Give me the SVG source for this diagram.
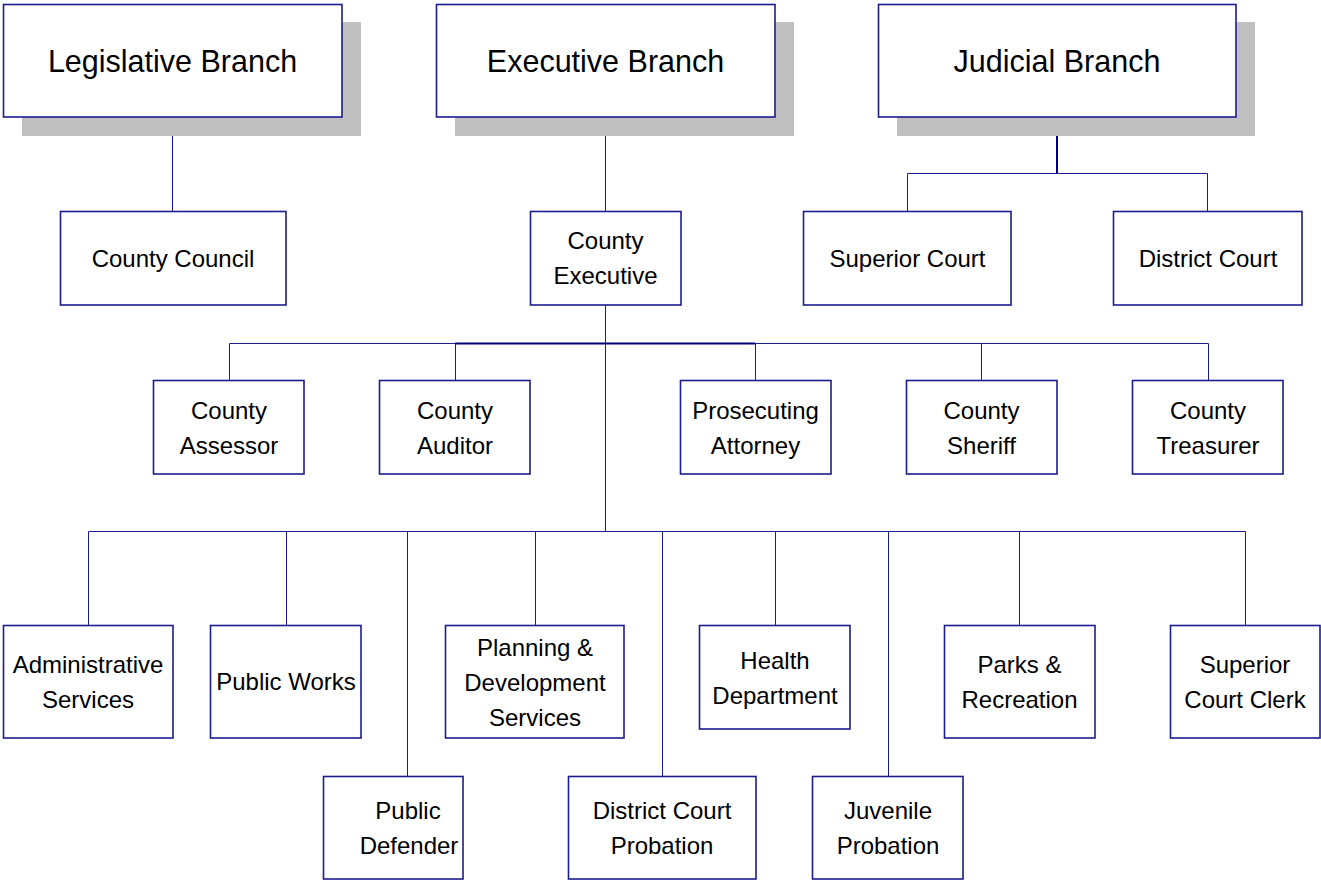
<svg xmlns="http://www.w3.org/2000/svg" width="1321" height="880" viewBox="0 0 1321 880">
<style>
.box{fill:#fff;stroke:#1c1c8c;stroke-width:1.6}
.sh{fill:#c0c0c0}
.t{font-family:"Liberation Sans",Arial,sans-serif;font-size:24px;fill:#000;text-anchor:middle}
.tb{font-family:"Liberation Sans",Arial,sans-serif;font-size:30.5px;fill:#000;text-anchor:middle}
.c{stroke:#1c1c8c;stroke-width:1;fill:none}
.cb{stroke:#00007a;stroke-width:2;fill:none}
</style>
<rect width="1321" height="880" fill="#fff"/>
<g id="connectors">
<path class="c" d="M172.5 117V211"/>
<path class="c" d="M605.5 117V211"/>
<path class="cb" d="M1057 117V173"/>
<path class="c" d="M907.5 211V173.5H1207.5V211"/>
<path class="c" d="M605.5 305V531"/>
<path class="c" d="M229.5 380V343.5H455M755 343.5H1208.5V380"/>
<path class="cb" d="M455 343.5H755"/>
<path class="c" d="M455.5 343V380M755.5 343V380M981.5 343V380"/>
<path class="c" d="M88.5 625V531.5H1245.5V625"/>
<path class="c" d="M286.5 531V625M407.5 531V776M535.5 531V625M662.5 531V776M775.5 531V625M888.5 531V776M1019.5 531V625"/>
</g>
<g id="legislative">
<rect class="sh" x="22" y="22" width="339" height="114"/>
<rect class="box" x="3.5" y="4.5" width="338.5" height="112.5"/>
<text class="tb" x="172.5" y="72">Legislative Branch</text>
</g>
<g id="executive">
<rect class="sh" x="455" y="22" width="339" height="114"/>
<rect class="box" x="436.5" y="4.5" width="338.5" height="112.5"/>
<text class="tb" x="605.5" y="72">Executive Branch</text>
</g>
<g id="judicial">
<rect class="sh" x="897" y="22" width="358" height="114"/>
<rect class="box" x="878.5" y="4.5" width="357.5" height="112.5"/>
<text class="tb" x="1057" y="72">Judicial Branch</text>
</g>
<g id="county-council">
<rect class="box" x="60.5" y="211.5" width="225.5" height="93.5"/>
<text class="t" x="173" y="267">County Council</text>
</g>
<g id="county-executive">
<rect class="box" x="530.5" y="211.5" width="150.5" height="93.5"/>
<text class="t" x="605.5" y="249">County</text>
<text class="t" x="605.5" y="284">Executive</text>
</g>
<g id="superior-court">
<rect class="box" x="803.5" y="211.5" width="207.5" height="93.5"/>
<text class="t" x="907.5" y="267">Superior Court</text>
</g>
<g id="district-court">
<rect class="box" x="1113.5" y="211.5" width="188.5" height="93.5"/>
<text class="t" x="1208" y="267">District Court</text>
</g>
<g id="county-assessor">
<rect class="box" x="153.5" y="380.5" width="150.5" height="93.5"/>
<text class="t" x="229" y="418.5">County</text>
<text class="t" x="229" y="453.5">Assessor</text>
</g>
<g id="county-auditor">
<rect class="box" x="379.5" y="380.5" width="150.5" height="93.5"/>
<text class="t" x="455" y="418.5">County</text>
<text class="t" x="455" y="453.5">Auditor</text>
</g>
<g id="prosecuting-attorney">
<rect class="box" x="680.5" y="380.5" width="150.5" height="93.5"/>
<text class="t" x="755.5" y="418.5">Prosecuting</text>
<text class="t" x="755.5" y="453.5">Attorney</text>
</g>
<g id="county-sheriff">
<rect class="box" x="906.5" y="380.5" width="150.5" height="93.5"/>
<text class="t" x="981.5" y="418.5">County</text>
<text class="t" x="981.5" y="453.5">Sheriff</text>
</g>
<g id="county-treasurer">
<rect class="box" x="1132.5" y="380.5" width="150.5" height="93.5"/>
<text class="t" x="1208" y="418.5">County</text>
<text class="t" x="1208" y="453.5">Treasurer</text>
</g>
<g id="administrative-services">
<rect class="box" x="3.5" y="625.5" width="169.5" height="112.5"/>
<text class="t" x="88" y="672.5">Administrative</text>
<text class="t" x="88" y="707.5">Services</text>
</g>
<g id="public-works">
<rect class="box" x="210.5" y="625.5" width="150.5" height="112.5"/>
<text class="t" x="286" y="690">Public Works</text>
</g>
<g id="public-defender">
<rect class="box" x="323.5" y="776.5" width="139.5" height="102.5"/>
<text class="t" x="408" y="818.5">Public</text>
<text class="t" x="409" y="853.5">Defender</text>
</g>
<g id="planning-development">
<rect class="box" x="445.5" y="625.5" width="178.5" height="112.5"/>
<text class="t" x="535" y="655.5">Planning &amp;</text>
<text class="t" x="535" y="690.5">Development</text>
<text class="t" x="535" y="725.5">Services</text>
</g>
<g id="district-court-probation">
<rect class="box" x="568.5" y="776.5" width="187.5" height="102.5"/>
<text class="t" x="662" y="818.5">District Court</text>
<text class="t" x="662" y="853.5">Probation</text>
</g>
<g id="health-department">
<rect class="box" x="699.5" y="625.5" width="150.5" height="103.5"/>
<text class="t" x="775" y="668.5">Health</text>
<text class="t" x="775" y="703.5">Department</text>
</g>
<g id="juvenile-probation">
<rect class="box" x="812.5" y="776.5" width="150.5" height="102.5"/>
<text class="t" x="888" y="818.5">Juvenile</text>
<text class="t" x="888" y="853.5">Probation</text>
</g>
<g id="parks-recreation">
<rect class="box" x="944.5" y="625.5" width="150.5" height="112.5"/>
<text class="t" x="1019.5" y="672.5">Parks &amp;</text>
<text class="t" x="1019.5" y="707.5">Recreation</text>
</g>
<g id="superior-court-clerk">
<rect class="box" x="1170.5" y="625.5" width="149.5" height="112.5"/>
<text class="t" x="1245" y="672.5">Superior</text>
<text class="t" x="1245" y="707.5">Court Clerk</text>
</g>
</svg>
